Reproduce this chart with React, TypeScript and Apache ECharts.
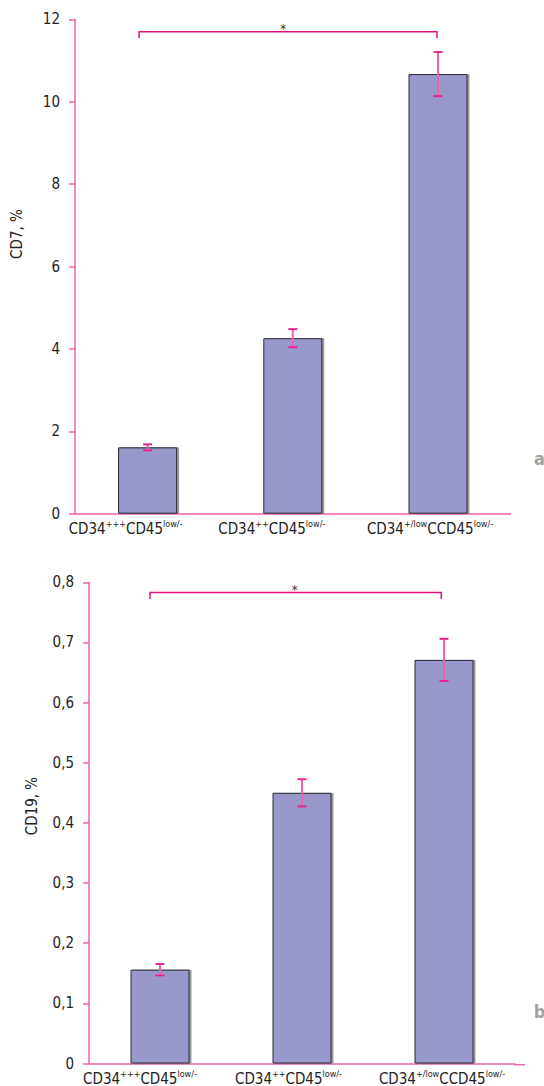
import React, { useEffect, useRef } from "react";
import * as echarts from "echarts";

// ---- data ----
const categories = ["CD34{+++}CD45{low/-}", "CD34{++}CD45{low/-}", "CD34{+/low}CCD45{low/-}"];
const cd7Means = [1.61, 4.26, 10.67];
const cd7Errors = [0.073, 0.22, 0.535];
const cd7Ticks = { min: 0, max: 12, interval: 2 };
const cd7Bracket = { from: 0, to: 2, level: 11.7, label: "*" };

const cd19Means = [0.156, 0.45, 0.671];
const cd19Errors = [0.0094, 0.0226, 0.035];
const cd19Ticks = { min: 0, max: 0.8, interval: 0.1 };
const cd19Bracket = { from: 0, to: 2, level: 0.783, label: "*" };

// ---- styles ----
const FONT = '"Liberation Sans Narrow", "DejaVu Sans Condensed", sans-serif';
const AXIS_COLOR = "#ef62a9";
const ERR_COLOR = "#e6268d";
const BRACKET_COLOR = "#e2117f";
const BAR_COLOR = "#9898ca";
const TEXT_COLOR = "#222";
const labelShiftA = [22, 21, 8];
const labelShiftB = [20, 13.5, 2];

function richLabel(cat: string, idx: number, prefix: string) {
  const body = "{n|" + cat.replace(/\{([^}]*)\}/g, "}{s|$1}{n|") + "}";
  return body + `{${prefix}${idx}|}`;
}

function richStyles(prefix: string, shifts: number[]) {
  const r: any = {
    n: { fontFamily: FONT, fontSize: 15, color: TEXT_COLOR, lineHeight: 18 },
    s: { fontFamily: FONT, fontSize: 9, color: TEXT_COLOR, lineHeight: 10, verticalAlign: "top" },
  };
  shifts.forEach((s, i) => {
    r[prefix + i] = { width: 2 * s, lineHeight: 18 };
  });
  return r;
}

function errorSeries(xi: number, means: number[], errs: number[]) {
  return {
    type: "custom",
    xAxisIndex: xi,
    yAxisIndex: xi,
    z: 5,
    encode: { x: 0, y: [1, 2] },
    data: means.map((m, i) => [i, m - errs[i], m + errs[i]]),
    renderItem: (params: any, api: any) => {
      const x = api.value(0);
      const lo = api.coord([x, api.value(1)]);
      const hi = api.coord([x, api.value(2)]);
      const hw = 4.5;
      const style = { stroke: ERR_COLOR, lineWidth: 2 };
      return {
        type: "group",
        children: [
          { type: "line", shape: { x1: hi[0], y1: hi[1], x2: lo[0], y2: lo[1] }, style: { stroke: "#f062ad", lineWidth: 2 } },
          { type: "line", shape: { x1: hi[0] - hw, y1: hi[1], x2: hi[0] + hw, y2: hi[1] }, style },
          { type: "line", shape: { x1: lo[0] - hw, y1: lo[1], x2: lo[0] + hw, y2: lo[1] }, style },
        ],
      };
    },
  };
}

function bracketSeries(xi: number, b: any, dxL: number, dxR: number, starDx: number) {
  return {
    type: "custom",
    xAxisIndex: xi,
    yAxisIndex: xi,
    z: 5,
    encode: { x: 0, y: 2 },
    data: [[b.from, b.to, b.level]],
    renderItem: (params: any, api: any) => {
      const p1 = api.coord([api.value(0), api.value(2)]);
      const p2 = api.coord([api.value(1), api.value(2)]);
      const x1 = p1[0] + dxL;
      const x2 = p2[0] + dxR;
      const y = p1[1];
      const t = 6.5;
      return {
        type: "group",
        children: [
          {
            type: "polyline",
            shape: { points: [[x1, y + t], [x1, y], [x2, y], [x2, y + t]] },
            style: { stroke: BRACKET_COLOR, lineWidth: 1.5, fill: "none" },
          },
          {
            type: "text",
            x: (x1 + x2) / 2 + starDx,
            y: y - 3,
            style: { text: b.label, font: `13px ${FONT}`, fill: "#333", align: "center", verticalAlign: "middle" },
          },
        ],
      };
    },
  };
}

function barSeries(xi: number, means: number[]) {
  return {
    type: "bar",
    xAxisIndex: xi,
    yAxisIndex: xi,
    data: means,
    barWidth: 59,
    z: 2,
    itemStyle: {
      color: BAR_COLOR,
      borderColor: "#2a2a38",
      borderWidth: 1,
      shadowColor: "rgba(70,70,70,0.55)",
      shadowOffsetX: 2,
      shadowOffsetY: 0,
      shadowBlur: 0,
    },
  };
}

export default function App() {
  const ref = useRef<HTMLDivElement>(null);
  useEffect(() => {
    document.body.style.margin = "0";
    if (!ref.current) return;
    const chart = echarts.init(ref.current, undefined, { renderer: "svg" });
    const xAxisCommon = (prefix: string, shifts: number[]) => ({
      type: "category",
      data: categories,
      axisLine: { lineStyle: { color: AXIS_COLOR, width: 1.5 } },
      axisTick: { show: false },
      axisLabel: {
        interval: 0,
        margin: 6,
        formatter: (v: string, i: number) => richLabel(v, i, prefix),
        rich: richStyles(prefix, shifts),
      },
    });
    const yAxisCommon = (t: any, fmt: (v: number) => string) => ({
      type: "value",
      min: t.min,
      max: t.max,
      interval: t.interval,
      splitLine: { show: false },
      axisLine: { show: true, lineStyle: { color: AXIS_COLOR, width: 1.5 } },
      axisTick: { show: true, length: 6, lineStyle: { color: AXIS_COLOR, width: 1.5 } },
      axisLabel: { margin: 15, fontFamily: FONT, fontSize: 15, color: TEXT_COLOR, formatter: fmt },
    });
    chart.setOption({
      animation: false,
      grid: [
        { left: 75, top: 19.3, width: 435.6, height: 494.4 },
        { left: 89, top: 582.3, width: 426, height: 482.4 },
      ],
      xAxis: [
        { gridIndex: 0, ...xAxisCommon("ga", labelShiftA) },
        { gridIndex: 1, ...xAxisCommon("gb", labelShiftB) },
      ],
      yAxis: [
        { gridIndex: 0, ...yAxisCommon(cd7Ticks, (v: number) => String(v)) },
        {
          gridIndex: 1,
          ...yAxisCommon(cd19Ticks, (v: number) => (v === 0 ? "0" : v.toFixed(1).replace(".", ","))),
        },
      ],
      series: [
        barSeries(0, cd7Means),
        errorSeries(0, cd7Means, cd7Errors),
        bracketSeries(0, cd7Bracket, -8.5, -1, -5),
        barSeries(1, cd19Means),
        errorSeries(1, cd19Means, cd19Errors),
        bracketSeries(1, cd19Bracket, -10, -2.7, -1),
      ],
      graphic: [
        {
          type: "text",
          x: 16.5,
          y: 234,
          rotation: Math.PI / 2,
          style: { text: "CD7, %", font: `15px ${FONT}`, fill: TEXT_COLOR, align: "center", verticalAlign: "middle" },
        },
        {
          type: "text",
          x: 31.5,
          y: 806,
          rotation: Math.PI / 2,
          style: { text: "CD19, %", font: `15px ${FONT}`, fill: TEXT_COLOR, align: "center", verticalAlign: "middle" },
        },
        {
          type: "text",
          x: 539.5,
          y: 458,
          style: { text: "a", font: `bold 18px ${FONT}`, fill: "#a3a3a3", align: "center", verticalAlign: "middle" },
        },
        {
          type: "text",
          x: 539.5,
          y: 1011,
          style: { text: "b", font: `bold 18px ${FONT}`, fill: "#a3a3a3", align: "center", verticalAlign: "middle" },
        },
        {
          type: "line",
          shape: { x1: 514, y1: 1064.7, x2: 525, y2: 1064.7 },
          style: { stroke: AXIS_COLOR, lineWidth: 1.5 },
        },
      ],
    });
    return () => chart.dispose();
  }, []);
  return <div ref={ref} style={{ width: 544, height: 1086 }} />;
}
